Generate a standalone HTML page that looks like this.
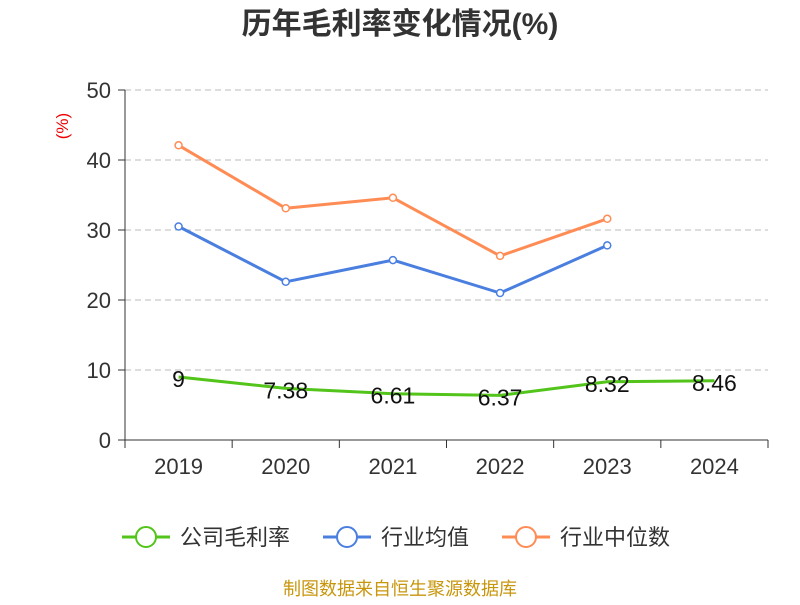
<!DOCTYPE html>
<html><head><meta charset="utf-8"><style>
body{margin:0;background:#fff;font-family:"Liberation Sans","Noto Sans CJK SC",sans-serif}
</style></head><body>
<svg id="chart" width="800" height="600" xmlns="http://www.w3.org/2000/svg" font-family="Liberation Sans, Noto Sans CJK SC, sans-serif">
<text x="400" y="34" text-anchor="middle" font-size="30" font-weight="bold" fill="#333">历年毛利率变化情况(%)</text>
<text x="68" y="126" font-size="17" fill="#e00" transform="rotate(-90 68 126)" text-anchor="middle">(%)</text>
<g id="grid"></g><g id="axes"></g><g id="series"></g>
<g font-size="22" fill="#333">
<g><line x1="122" y1="537" x2="170" y2="537" stroke="#52c41a" stroke-width="3"/><circle cx="146" cy="537" r="10" fill="#fff" stroke="#52c41a" stroke-width="2"/><text x="180" y="545">公司毛利率</text></g>
<g><line x1="323" y1="537" x2="371" y2="537" stroke="#4a7fe0" stroke-width="3"/><circle cx="347" cy="537" r="10" fill="#fff" stroke="#4a7fe0" stroke-width="2"/><text x="381" y="545">行业均值</text></g>
<g><line x1="502" y1="537" x2="550" y2="537" stroke="#ff8c55" stroke-width="3"/><circle cx="526" cy="537" r="10" fill="#fff" stroke="#ff8c55" stroke-width="2"/><text x="560" y="545">行业中位数</text></g>
</g>
<text x="400" y="595" text-anchor="middle" font-size="18" fill="#c8960c">制图数据来自恒生聚源数据库</text>
</svg>
<script>
const categories=["2019","2020","2021","2022","2023","2024"];
const company=[9,7.38,6.61,6.37,8.32,8.46];
const companyLabels=["9","7.38","6.61","6.37","8.32","8.46"];
const industryMean=[30.5,22.6,25.7,21.0,27.8,null];
const industryMedian=[42.1,33.1,34.6,26.3,31.6,null];
const yTicks=[0,10,20,30,40,50];
const NS="http://www.w3.org/2000/svg";
const x0=125,x1=768,y0=440,y1=90;
const bw=(x1-x0)/categories.length;
const xs=i=>x0+bw*(i+0.5);
const ys=v=>y0-(v/50)*(y0-y1);
function mk(t,a,p){const e=document.createElementNS(NS,t);for(const k in a)e.setAttribute(k,a[k]);p.appendChild(e);return e;}
const grid=document.getElementById('grid'),axes=document.getElementById('axes'),ser=document.getElementById('series');
yTicks.forEach(v=>{
 if(v>0){const g=mk('line',{x1:x0,x2:x1,y1:ys(v),y2:ys(v),stroke:'#bbb','stroke-dasharray':'6,4'},grid);
 
 }
 const tk=mk('line',{x1:x0-7,x2:x0,y1:ys(v),y2:ys(v),stroke:'#333'},axes);
 
 
 const t=mk('text',{x:x0-14,y:ys(v)+8,'text-anchor':'end','font-size':'22',fill:'#333'},axes);t.textContent=v;
 
 
});
const ya=mk('line',{x1:x0,x2:x0,y1:y1,y2:y0,stroke:'#333'},axes);


const xa=mk('line',{x1:x0,x2:x1,y1:y0,y2:y0,stroke:'#333'},axes);


for(let i=0;i<=categories.length;i++){const tk=mk('line',{x1:x0+bw*i,x2:x0+bw*i,y1:y0,y2:y0+8,stroke:'#333'},axes);
 
 }
categories.forEach((c,i)=>{const t=mk('text',{x:xs(i),y:y0+34,'text-anchor':'middle','font-size':'22',fill:'#333'},axes);t.textContent=c;
 
 });
function line(data,color,name,markers){
 const pts=data.map((v,i)=>v==null?null:[xs(i),ys(v)]).filter(p=>p);
 const p=mk('polyline',{points:pts.map(p=>p.join(',')).join(' '),fill:'none',stroke:color,'stroke-width':3,'stroke-linejoin':'round'},ser);
 
 
 if(markers)pts.forEach(q=>{const c=mk('circle',{cx:q[0],cy:q[1],r:3.5,fill:'#fff',stroke:color,'stroke-width':1.5},ser);
  
  });
}
line(industryMedian,'#ff8c55','industry-median',true);
line(industryMean,'#4a7fe0','industry-mean',true);
line(company,'#52c41a','company',false);
company.forEach((v,i)=>{const t=mk('text',{x:xs(i),y:ys(v)+10,'text-anchor':'middle','font-size':'23',fill:'#111'},ser);t.textContent=companyLabels[i];
 
 });
</script>
</body></html>
